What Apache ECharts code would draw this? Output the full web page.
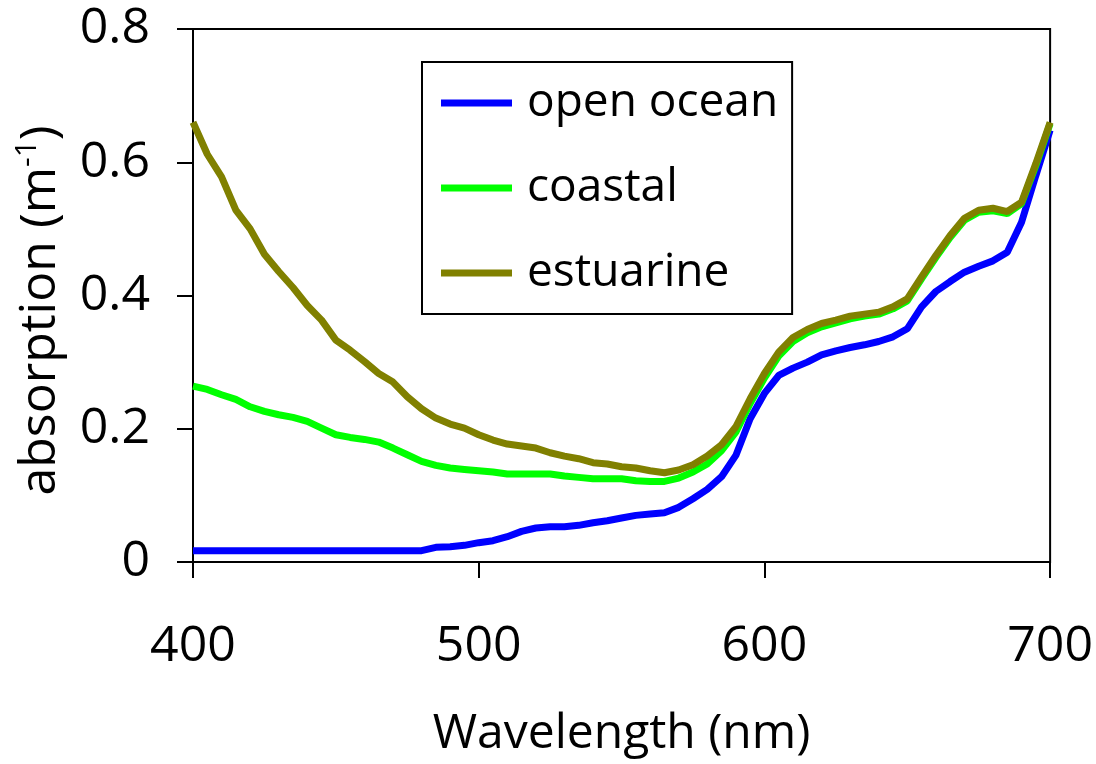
<!DOCTYPE html>
<html>
<head>
<meta charset="utf-8">
<title>Absorption spectra</title>
<script src="https://cdn.jsdelivr.net/npm/echarts@6/dist/echarts.min.js"></script>
<style>
  html, body { margin: 0; padding: 0; background: #ffffff; }
  #chart { width: 1096px; height: 764px; }
</style>
</head>
<body>
<div id="chart"></div>
<script>
// Wavelength grid (nm)
const wavelengths = [
  400, 405, 410, 415, 420, 425, 430, 435, 440, 445,
  450, 455, 460, 465, 470, 475, 480, 485, 490, 495,
  500, 505, 510, 515, 520, 525, 530, 535, 540, 545,
  550, 555, 560, 565, 570, 575, 580, 585, 590, 595,
  600, 605, 610, 615, 620, 625, 630, 635, 640, 645,
  650, 655, 660, 665, 670, 675, 680, 685, 690, 695, 700
];

// Absorption (m^-1) for each water type
const openOcean = [
  0.017, 0.017, 0.017, 0.017, 0.017, 0.017, 0.017, 0.017, 0.017, 0.017,
  0.017, 0.017, 0.017, 0.017, 0.017, 0.017, 0.017, 0.022, 0.023, 0.025,
  0.029, 0.032, 0.038, 0.046, 0.051, 0.053, 0.053, 0.055, 0.059, 0.062,
  0.066, 0.070, 0.072, 0.074, 0.082, 0.095, 0.109, 0.128, 0.160, 0.215,
  0.253, 0.280, 0.291, 0.300, 0.311, 0.317, 0.322, 0.326, 0.331, 0.338,
  0.350, 0.383, 0.406, 0.421, 0.435, 0.444, 0.452, 0.465, 0.510, 0.580, 0.648
];
const coastal = [
  0.264, 0.259, 0.251, 0.244, 0.233, 0.226, 0.221, 0.217, 0.211, 0.201,
  0.191, 0.187, 0.184, 0.180, 0.171, 0.161, 0.151, 0.145, 0.141, 0.139,
  0.137, 0.135, 0.132, 0.132, 0.132, 0.132, 0.129, 0.127, 0.125, 0.125,
  0.125, 0.122, 0.121, 0.121, 0.126, 0.135, 0.147, 0.167, 0.195, 0.238,
  0.276, 0.309, 0.331, 0.344, 0.353, 0.359, 0.365, 0.369, 0.372, 0.380,
  0.392, 0.425, 0.457, 0.487, 0.513, 0.525, 0.527, 0.523, 0.538, 0.595, 0.658
];
const estuarine = [
  0.660, 0.612, 0.578, 0.528, 0.500, 0.462, 0.436, 0.412, 0.385, 0.363,
  0.333, 0.318, 0.301, 0.283, 0.270, 0.248, 0.230, 0.216, 0.207, 0.201,
  0.191, 0.183, 0.177, 0.174, 0.171, 0.164, 0.159, 0.155, 0.149, 0.147,
  0.143, 0.141, 0.137, 0.134, 0.138, 0.146, 0.159, 0.176, 0.203, 0.245,
  0.283, 0.315, 0.337, 0.349, 0.358, 0.363, 0.369, 0.372, 0.375, 0.383,
  0.395, 0.428, 0.460, 0.490, 0.516, 0.528, 0.531, 0.526, 0.540, 0.598, 0.660
];

const seriesNames = ['open ocean', 'coastal', 'estuarine'];
const seriesColors = ['#0000ff', '#00ff00', '#808000'];
const seriesValues = [openOcean, coastal, estuarine];

const FONT = '"Open Sans", "DejaVu Sans", sans-serif';

const chart = echarts.init(document.getElementById('chart'), null, { renderer: 'canvas' });

const pairs = vals => wavelengths.map((w, i) => [w, vals[i]]);

chart.setOption({
  animation: false,
  backgroundColor: '#ffffff',
  grid: {
    left: 193, right: 45, top: 29, bottom: 202,
    show: true, borderColor: '#000000', borderWidth: 2, backgroundColor: 'transparent'
  },
  legend: {
    left: 422, top: 62,
    orient: 'vertical',
    data: seriesNames,
    icon: 'rect',
    itemWidth: 71, itemHeight: 7,
    itemGap: 35,
    padding: [16, 14, 16, 19],
    borderColor: '#000000', borderWidth: 2,
    backgroundColor: '#ffffff',
    textStyle: { fontFamily: FONT, fontSize: 46, color: '#000000', lineHeight: 50, padding: [0, 0, 0, 10] }
  },
  xAxis: {
    type: 'value',
    min: 400, max: 700, interval: 100,
    name: 'Wavelength (nm)',
    nameLocation: 'middle',
    nameGap: 148,
    nameTextStyle: { fontFamily: FONT, fontSize: 48, color: '#000000' },
    axisLine: { show: true, onZero: false, lineStyle: { color: '#000000', width: 2 } },
    axisTick: { show: true, inside: false, length: 16, lineStyle: { color: '#000000', width: 2 } },
    axisLabel: { margin: 60, fontFamily: FONT, fontSize: 50, color: '#000000' },
    splitLine: { show: false }
  },
  yAxis: {
    type: 'value',
    min: 0, max: 0.8, interval: 0.2,
    name: 'absorption (m{sup|-1})',
    nameLocation: 'middle',
    nameRotate: 90,
    nameGap: 118,
    nameTextStyle: {
      fontFamily: FONT, fontSize: 50, color: '#000000', lineHeight: 56,
      padding: [0, 30, 0, 0],
      rich: {
        sup: { fontFamily: FONT, fontSize: 30, color: '#000000', verticalAlign: 'top', lineHeight: 56, padding: [0, 0, 22, 0] }
      }
    },
    axisLine: { show: true, lineStyle: { color: '#000000', width: 2 } },
    axisTick: { show: true, inside: false, length: 16, lineStyle: { color: '#000000', width: 2 } },
    axisLabel: { margin: 43, fontFamily: FONT, fontSize: 50, color: '#000000' },
    splitLine: { show: false }
  },
  series: seriesNames.map((name, i) => ({
    name,
    type: 'line',
    data: pairs(seriesValues[i]),
    showSymbol: false,
    symbol: 'none',
    color: seriesColors[i],
    lineStyle: { color: seriesColors[i], width: 7 },
    z: 2 + i
  }))
});
</script>
</body>
</html>
